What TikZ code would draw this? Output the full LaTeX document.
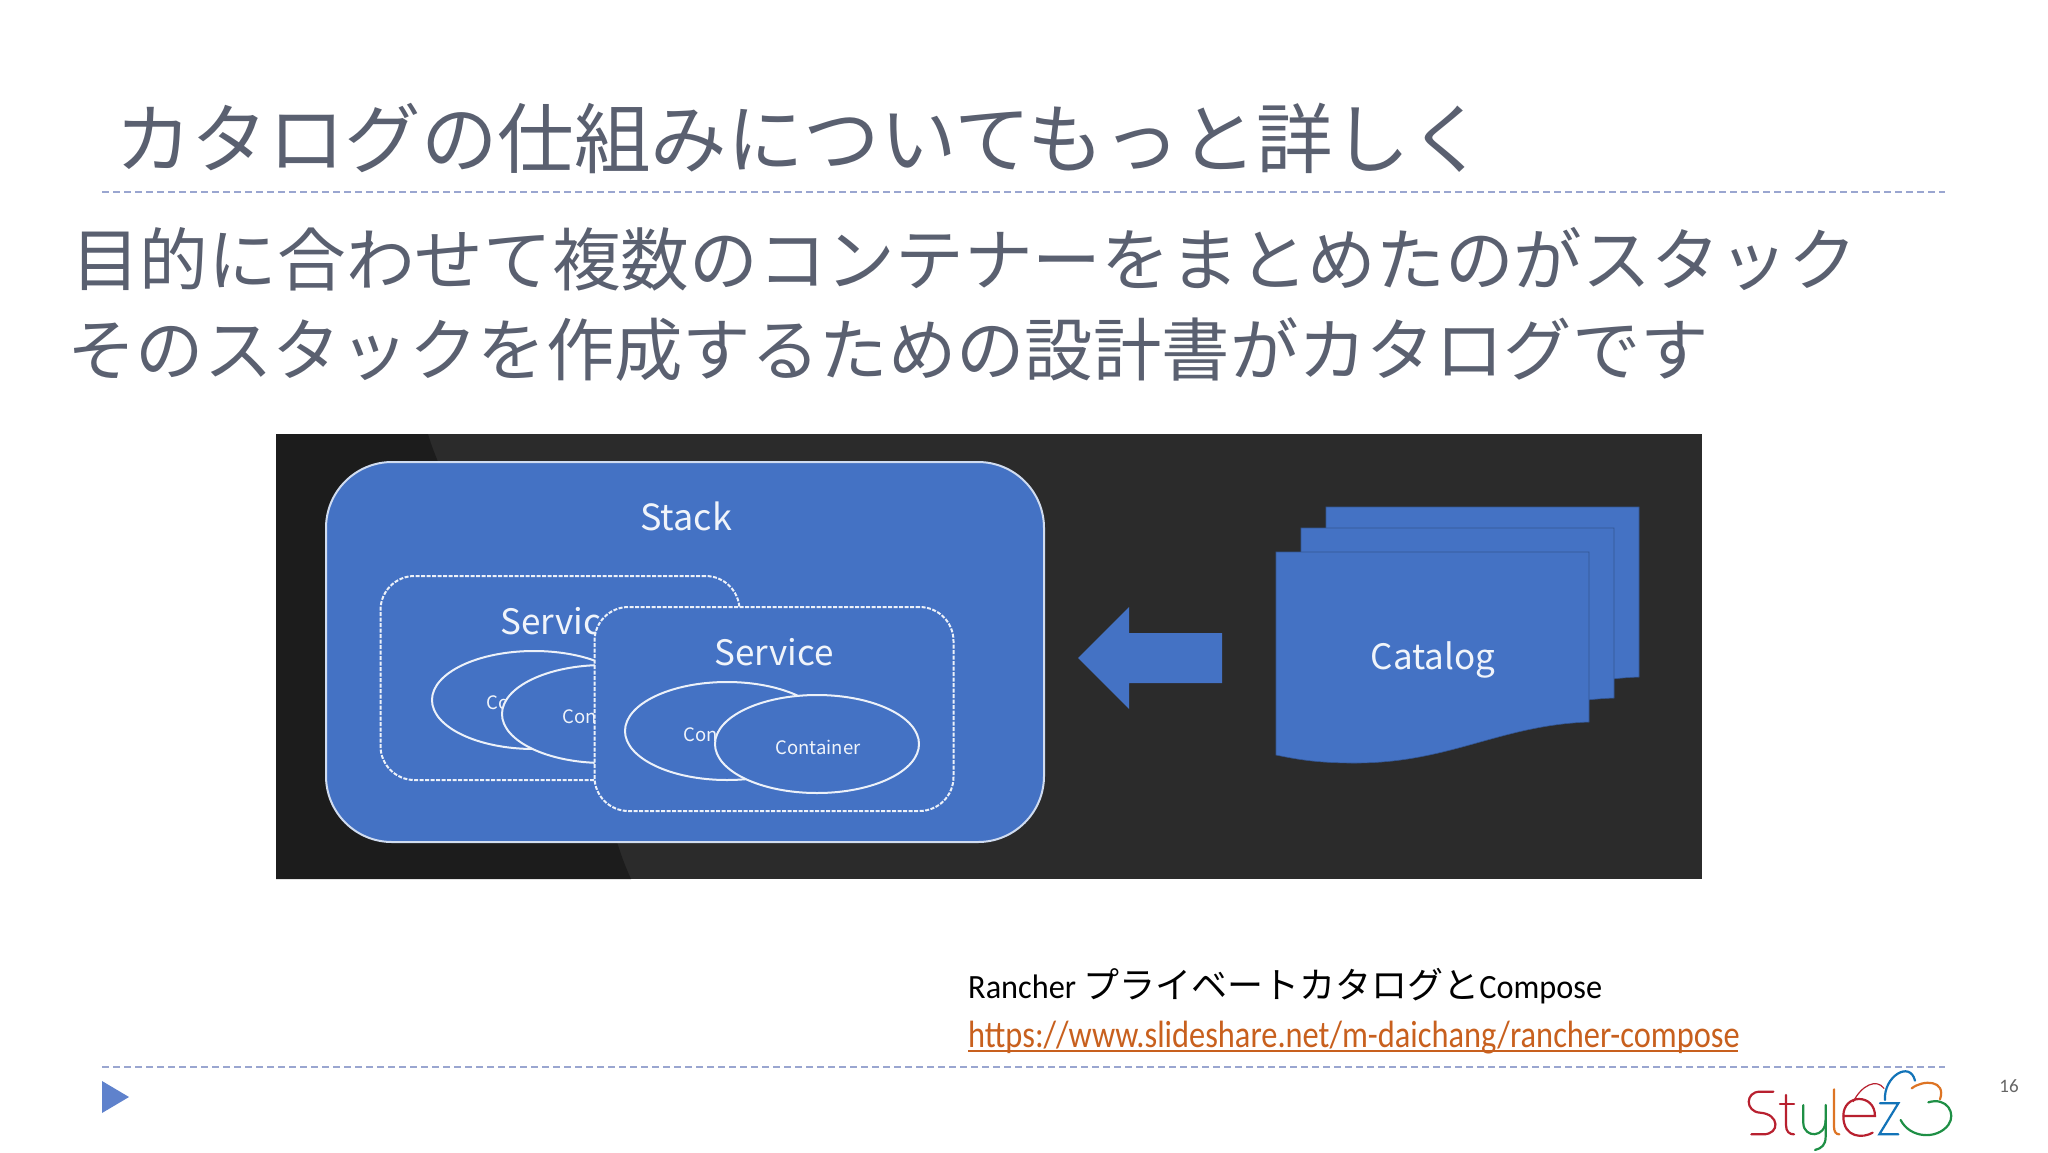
\documentclass[tikz,border=0pt]{standalone}
\usepackage{fontspec}
\setmainfont{Noto Sans CJK JP}
\newfontfamily\latinfont{Carlito}
\usetikzlibrary{shapes.geometric}
\definecolor{titlegray}{HTML}{5A6070}
\definecolor{rulelilac}{HTML}{9AA6D0}
\definecolor{markblue}{HTML}{5F82CC}
\definecolor{imgdark}{HTML}{2B2B2B}
\definecolor{imgdarker}{HTML}{1C1C1C}
\definecolor{shapeblue}{HTML}{4472C4}
\definecolor{linkorange}{HTML}{C8601E}
\definecolor{logored}{HTML}{B8202F}
\definecolor{logogreen}{HTML}{1E8F45}
\definecolor{logoorange}{HTML}{DD7424}
\definecolor{logoblue}{HTML}{1273B8}
\newcommand{\pxfont}[1]{\fontsize{#1}{#1}\selectfont}
\newcommand{\narrowlatin}[2]{\scalebox{#1}[1]{\latinfont #2}}
\tikzset{
  headtext/.style={anchor=west,inner sep=0,text=titlegray},
  slidetext/.style={anchor=west,inner sep=0,text=black},
  rulerline/.style={rulelilac,line width=1.6pt,dashed,dash pattern=on 7pt off 4pt},
  stackbox/.style={draw=white!75!shapeblue,line width=2pt,fill=shapeblue,rounded corners=66pt,minimum width=718pt,minimum height=380pt,inner sep=0},
  servicebox/.style={draw=white!90!shapeblue,line width=2pt,dashed,dash pattern=on 4pt off 1.5pt,fill=shapeblue,rounded corners=34pt,minimum width=359pt,minimum height=204pt,inner sep=0},
  containerellipse/.style={ellipse,draw=white!90!shapeblue,line width=2pt,fill=shapeblue,minimum width=204pt,minimum height=98pt,inner sep=0},
  imgtext/.style={text=white!92!shapeblue,inner sep=0},
  logostroke/.style={line width=1.5pt,line cap=round},
}
\begin{document}
\begin{tikzpicture}[x=1pt,y=-1pt]
  \useasboundingbox (0,0) rectangle (2048,1152);
  \fill[white] (0,0) rectangle (2048,1152);

  \node[headtext,font=\pxfont{76.5}] (title) at (115,138) {カタログの仕組みについてもっと詳しく};
  \coordinate (ruleTopL) at (102,192);
  \coordinate (ruleTopR) at (1945,192);
  \draw[rulerline] (ruleTopL) -- (ruleTopR);
  \node[headtext,font=\pxfont{68.7}] (lineA) at (71,259) {目的に合わせて複数のコンテナーをまとめたのがスタック};
  \node[headtext,font=\pxfont{68.4}] (lineB) at (67,350) {そのスタックを作成するための設計書がカタログです};

  % image background
  \fill[imgdark] (276,434) rectangle (1702,879);
  \fill[imgdarker] (276,434) -- (428,434) .. controls (432,448) and (436,456) .. (441,470)
    -- (617,842) .. controls (622,858) and (626,868) .. (631,879) -- (276,879) -- cycle;

  \node[stackbox] (stack) at (685,652) {};
  \node[imgtext,font=\pxfont{36}] (stackname) at (686,516) {Stack};

  \node[servicebox] (svcA) at (560,678) {};
  \node[imgtext,font=\pxfont{35}] (svcAname) at (560,621) {Service};
  \node[containerellipse] (ctrA) at (534,700) {};
  \node[imgtext,font=\pxfont{18.5}] (ctrAname) at (529,702) {Container};
  \node[containerellipse] (ctrB) at (604,714) {};
  \node[imgtext,font=\pxfont{18.5}] (ctrBname) at (605,716) {Container};

  \node[servicebox] (svcB) at (774,709) {};
  \node[imgtext,font=\pxfont{35}] (svcBname) at (774,652) {Service};
  \node[containerellipse] (ctrC) at (727,731) {};
  \node[imgtext,font=\pxfont{18.5}] (ctrCname) at (726,734) {Container};
  \node[containerellipse] (ctrD) at (817,744) {};
  \node[imgtext,font=\pxfont{18.5}] (ctrDname) at (818,747) {Container};

  \fill[shapeblue] (1078,658) -- (1129,607) -- (1129,633) -- (1222,633)
    -- (1222,683) -- (1129,683) -- (1129,709) -- cycle;

  % catalog sheets
  \foreach \dx/\dy in {50/-45,25/-24,0/0} {
    \filldraw[shift={(\dx,\dy)},fill=shapeblue,draw=black!25!shapeblue,line width=0.6pt]
      (1276,552) -- (1589,552) -- (1589,722)
      .. controls (1500,725) and (1450,763) .. (1355,763)
      .. controls (1320,763) and (1300,760) .. (1276,755) -- cycle;
  }
  \node[imgtext,font=\pxfont{35}] (catalog) at (1433,660) {Catalog};

  \node[slidetext,font=\pxfont{36}] (source) at (968,986)
    {\narrowlatin{0.95}{\pxfont{34}Rancher\ }プライベートカタログと\narrowlatin{0.95}{\pxfont{34}Compose}};
  \node[slidetext,text=linkorange,font=\pxfont{38}] (url) at (968,1038)
    {\narrowlatin{0.853}{https://www.slideshare.net/m-daichang/rancher-compose}};
  \coordinate (urlL) at (968,1051);
  \coordinate (urlR) at (1738,1051);
  \draw[linkorange,line width=1.6pt] (urlL) -- (urlR);

  \coordinate (ruleBotL) at (102,1067);
  \coordinate (ruleBotR) at (1945,1067);
  \draw[rulerline] (ruleBotL) -- (ruleBotR);
  \fill[markblue] (102,1081) -- (129,1097) -- (102,1113) -- cycle;
  \node[inner sep=0,text=black!60,font=\latinfont\pxfont{19}] (pagenum) at (2009,1086) {16};

  % logo
  \begin{scope}[shift={(1680,1040)},x=0.3333pt,y=-0.3333pt,logostroke]
    \draw[logored,line width=2.2pt] (280,155) -- (240,155) .. controls (195,155) and (195,215) .. (240,218)
      .. controls (300,222) and (300,283) .. (250,283) -- (214,283);
    \draw[logored,line width=2.2pt] (318,165) -- (318,255) .. controls (318,275) and (328,283) .. (342,283);
    \draw[logored,line width=2.2pt] (300,192) -- (342,192);
    \draw[logogreen,line width=2.2pt] (370,195) -- (370,250) .. controls (372,295) and (437,295) .. (437,240);
    \draw[logogreen,line width=2.2pt] (437,195) -- (437,290) .. controls (437,315) and (425,325) .. (405,330);
    \draw[logoorange,line width=2.2pt] (462,148) -- (462,260) .. controls (462,275) and (468,283) .. (478,283);
    \draw[logored,line width=2.2pt] (490,228) -- (585,228) .. controls (585,160) and (490,160) .. (490,228)
      .. controls (490,295) and (550,295) .. (578,278);
    \draw[logored,line width=1.2pt] (520,185) .. controls (545,135) and (590,115) .. (612,145);
    \draw[logoblue,line width=2.2pt] (600,190) -- (655,190) -- (598,283) -- (655,283);
    \draw[logoblue,line width=2.2pt] (615,180) .. controls (610,110) and (690,60) .. (705,122);
    \draw[logoorange,line width=2.2pt] (695,145) .. controls (730,118) and (800,120) .. (780,178);
    \draw[logogreen,line width=2.2pt] (745,187) .. controls (800,170) and (830,220) .. (805,255)
      .. controls (770,300) and (690,295) .. (662,240);
  \end{scope}
\end{tikzpicture}
\end{document}
